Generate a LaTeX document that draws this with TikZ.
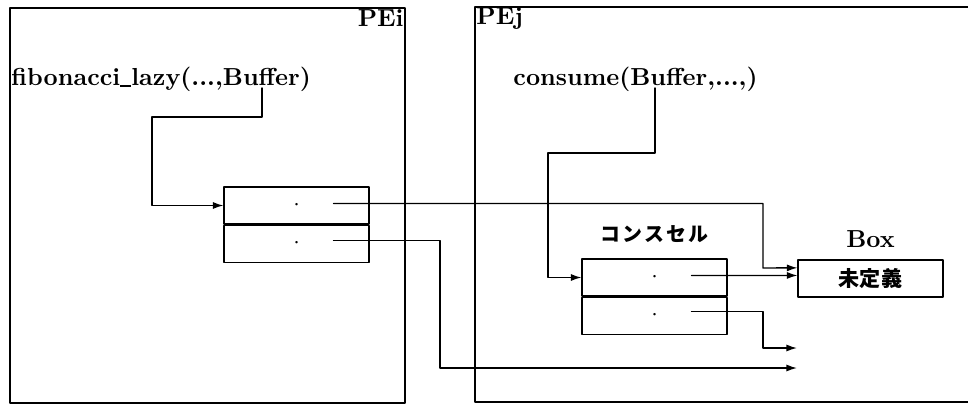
\documentclass[tikz,border=0pt]{standalone}
\usepackage{fontspec}
\newfontfamily\jpfont{Noto Sans CJK JP}
\usetikzlibrary{positioning,calc,arrows.meta}
\newcommand\lowbar{\rule[-0.15ex]{0.45em}{0.5pt}}

\tikzset{
  txt/.style={font=\fontsize{10.5}{12}\selectfont\bfseries,inner sep=0pt},
  cell/.style={draw,line width=0.45pt,minimum width=21.75mm,minimum height=5.55mm,inner sep=0pt},
  ptr/.style={line width=0.6pt,-{Latex[length=4.5pt,width=3pt]}},
}

\begin{document}
\begin{tikzpicture}[x=0.15mm,y=-0.15mm,line cap=round,line join=round]
  \clip (0,0) rectangle (968,405);
  % 二つの PE
  \draw[line width=0.6pt] (10,8) rectangle (405,403);
  \draw[line width=0.6pt] (475,7) rectangle (1000,402);
  \node[txt,anchor=base east] (pei) at (404,26) {PEi};
  \node[txt,anchor=base west] (pej) at (476,24) {PEj};
  % 呼び出し
  \node[txt,anchor=base west] (fib) at (11,85) {fibonacci\lowbar lazy(...,Buffer)};
  \node[txt,anchor=base west] (con) at (513,85) {consume(Buffer,...,)};
  \coordinate (fibbuf) at (262,88);
  \coordinate (conbuf) at (655,88);
  % PEi のセル
  \node[cell] (lcar) at (296.5,205.5) {$\cdot$};
  \node[cell,below=0pt of lcar] (lcdr) {$\cdot$};
  % コンスセル
  \node[cell] (rcar) at (654.5,277.5) {$\cdot$};
  \node[cell,below=0pt of rcar] (rcdr) {$\cdot$};
  \node[font=\jpfont\fontsize{8.5}{10}\selectfont\bfseries\addfontfeature{LetterSpace=12},above=3pt of rcar] (conslbl) {コンスセル};
  % Box
  \node[cell] (box) at (870.5,278.5) {\jpfont\fontsize{9}{10}\selectfont\bfseries 未定義};
  \node[txt,above=5pt of box] (boxlbl) {Box};
  % ポインタ
  \coordinate (lp1) at ($(lcar.center)+(37,-2)$);
  \coordinate (lp2) at ($(lcdr.center)+(37,-3)$);
  \coordinate (rp1) at ($(rcar.center)+(37,-2)$);
  \coordinate (rp2) at ($(rcdr.center)+(37,-4)$);
  \coordinate (outl) at (797,368);
  \coordinate (outr) at (797,348);
  \draw[ptr] (fibbuf) |- (152,117) |- (lcar.west);
  \draw[ptr] (conbuf) |- (548,153) |- (rcar.west);
  \draw[ptr] (lp1) -| (763,268) -- ($(box.north west)!0.22!(box.south west)$);
  \draw[ptr] (rp1) -- ($(box.north west)!0.42!(box.south west)$);
  \draw[ptr] (lp2) -| (440,368) -- (outl);
  \draw[ptr] (rp2) -| (763,348) -- (outr);
\end{tikzpicture}
\end{document}
